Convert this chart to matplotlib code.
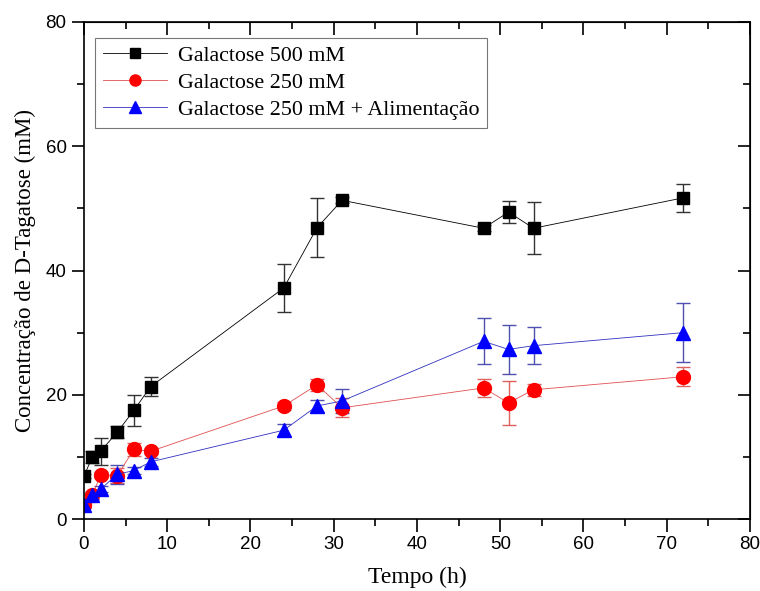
import numpy as np
import matplotlib.pyplot as plt
from matplotlib.lines import Line2D
from matplotlib.ticker import MultipleLocator

# tempos de coleta (h)
tempo = [0, 1, 2, 4, 6, 8, 24, 28, 31, 48, 51, 54, 72]

# concentração de D-tagatose (mM) e desvios
gal500 = [6.9, 10.0, 10.9, 14.0, 17.5, 21.3, 37.2, 46.9, 51.3, 46.8, 49.4, 46.8, 51.7]
gal500_err = [0.3, 1.0, 2.2, 1.0, 2.5, 1.5, 3.9, 4.8, 0.5, 0.5, 1.8, 4.2, 2.3]

gal250 = [2.3, 3.8, 7.1, 7.0, 11.2, 10.9, 18.2, 21.6, 17.9, 21.1, 18.7, 20.8, 22.9]
gal250_err = [0.4, 0.5, 0.5, 1.2, 1.0, 0.5, 0.6, 1.0, 1.5, 1.5, 3.5, 1.0, 1.5]

gal250_alim = [2.2, 3.8, 4.8, 7.2, 7.8, 9.2, 14.3, 18.2, 19.0, 28.6, 27.3, 27.9, 30.0]
gal250_alim_err = [0.5, 0.5, 0.5, 1.5, 0.6, 0.6, 1.0, 1.0, 2.0, 3.7, 4.0, 3.0, 4.7]

labels = ['Galactose 500 mM', 'Galactose 250 mM', 'Galactose 250 mM + Alimentação']

serif = ['Liberation Serif', 'DejaVu Serif']
plt.rcParams['font.family'] = ['Liberation Sans', 'DejaVu Sans']

fig = plt.figure(figsize=(7.6, 5.91), dpi=100)
ax = fig.add_axes([0.1105, 0.1218, 0.8763, 0.841])

estilos = [
    dict(color='black', marker='s', ms=9, mc='black', ec='#333333'),
    dict(color='#e05050', marker='o', ms=10, mc='red', ec='#e06060'),
    dict(color='#3030c0', marker='^', ms=10, mc='blue', ec='#5050b0'),
]
series = [(gal500, gal500_err), (gal250, gal250_err), (gal250_alim, gal250_alim_err)]

handles = []
for (y, err), st, lab in zip(series, estilos, labels):
    ax.errorbar(tempo, y, yerr=err, color=st['color'], lw=0.6,
                marker=st['marker'], ms=st['ms'], mec=st['mc'], mfc=st['mc'],
                ecolor=st['ec'], elinewidth=1.0, capsize=5, capthick=1.0)
    handles.append(Line2D([], [], color=st['color'], lw=0.6, marker=st['marker'],
                          ms=st['ms'] - 2, mec=st['mc'], mfc=st['mc'], label=lab))

ax.set_xlim(0, 80)
ax.set_ylim(0, 80)
ax.xaxis.set_major_locator(MultipleLocator(10))
ax.xaxis.set_minor_locator(MultipleLocator(5))
ax.yaxis.set_major_locator(MultipleLocator(20))
ax.yaxis.set_minor_locator(MultipleLocator(10))

ax.tick_params(which='both', direction='out', width=1.2, labelsize=13.5)
ax.tick_params(which='major', length=9)
ax.tick_params(which='minor', length=5)
for sp in ax.spines.values():
    sp.set_linewidth(1.2)

# ticks do topo e da direita apontam para dentro
sec_x = ax.secondary_xaxis('top')
sec_x.xaxis.set_major_locator(MultipleLocator(10))
sec_x.xaxis.set_minor_locator(MultipleLocator(5))
sec_x.tick_params(which='both', direction='in', width=1.2, labeltop=False)
sec_x.tick_params(which='major', length=9)
sec_x.tick_params(which='minor', length=5)
sec_y = ax.secondary_yaxis('right')
sec_y.yaxis.set_major_locator(MultipleLocator(20))
sec_y.yaxis.set_minor_locator(MultipleLocator(10))
sec_y.tick_params(which='both', direction='in', width=1.2, labelright=False)
sec_y.tick_params(which='major', length=9)
sec_y.tick_params(which='minor', length=5)

ax.set_xlabel('Tempo (h)', family=serif, fontsize=17, labelpad=10)
ax.set_ylabel('Concentração de D-Tagatose (mM)', family=serif, fontsize=16.5, labelpad=7)

leg = ax.legend(handles=handles, loc='upper left', prop={'family': serif, 'size': 15.8},
                frameon=True, fancybox=False, edgecolor='#555555',
                handlelength=2.9, borderpad=0.35, labelspacing=0.3,
                handletextpad=0.5, borderaxespad=0,
                bbox_to_anchor=(0.017, 0.968))
leg.get_frame().set_linewidth(0.8)

fig.savefig('out.png', dpi=100)
